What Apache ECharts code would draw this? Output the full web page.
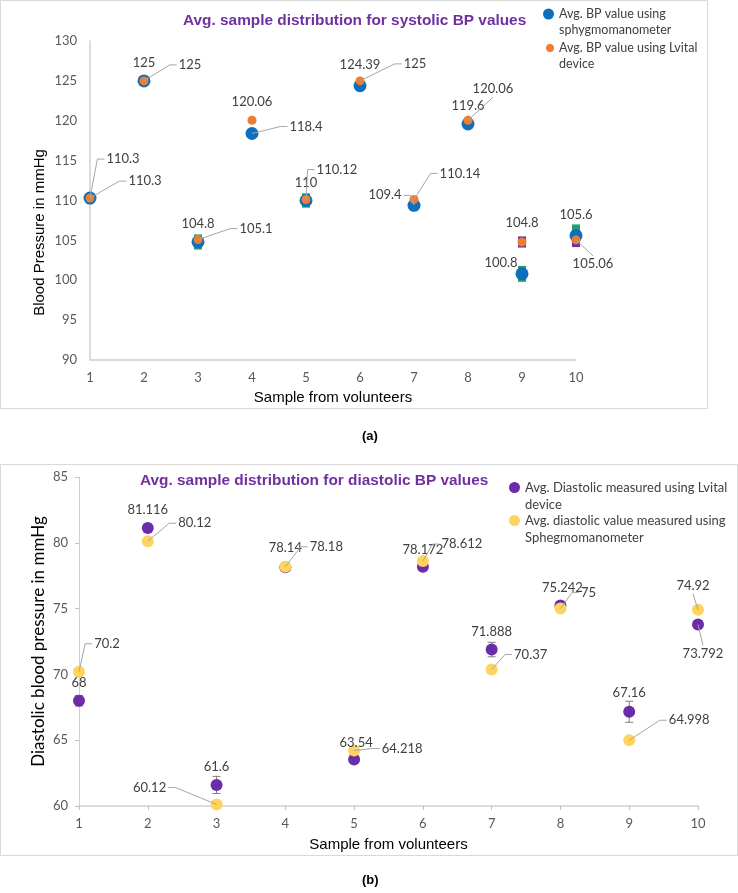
<!DOCTYPE html>
<html><head><meta charset="utf-8">
<script src="https://cdn.jsdelivr.net/npm/echarts@6/dist/echarts.min.js"></script>
<style>html,body{margin:0;padding:0;background:#fff;}#c{width:738px;height:893px;}</style>
</head><body><div id="c"></div>
<script>
// ---------- data ----------
const samples = [1, 2, 3, 4, 5, 6, 7, 8, 9, 10];
const sysSphyg = [110.3, 125, 104.8, 118.4, 110, 124.39, 109.4, 119.6, 100.8, 105.6];
const sysLvital = [110.3, 125, 105.1, 120.06, 110.12, 125, 110.14, 120.06, 104.8, 105.06];
const sysSphygErr = [0.5, 0.5, 0.95, 0.4, 0.9, 0.4, 0.5, 0.3, 1.0, 1.4];
const sysLvitalErr = [0.3, 0.3, 0.3, 0.3, 0.3, 0.3, 0.3, 0.3, 0.7, 0.9];
const diaLvital = [68, 81.116, 61.6, 78.14, 63.54, 78.172, 71.888, 75.242, 67.16, 73.792];
const diaSphyg = [70.2, 80.12, 60.12, 78.18, 64.218, 78.612, 70.37, 75, 64.998, 74.92];
const diaLvitalErr = [0.4, 0.3, 0.65, 0.3, 0.3, 0.3, 0.55, 0.3, 0.8, 0.3];
const diaSphygErr = [0.2, 0.2, 0.2, 0.2, 0.2, 0.2, 0.3, 0.2, 0.2, 0.2];
const sysTicks = [90, 95, 100, 105, 110, 115, 120, 125, 130];
const diaTicks = [60, 65, 70, 75, 80, 85];
const sysSphygName = 'Avg. BP value using\nsphygmomanometer';
const sysLvitalName = 'Avg. BP value using Lvital\ndevice';
const diaLvitalName = 'Avg. Diastolic measured using Lvital\ndevice';
const diaSphygName = 'Avg. diastolic value measured using\nSphegmomanometer';

// ---------- label placement (layout, not data): [dx, dy, leader] ----------
const sysSphygLab = [[55,-17,1],[0,-18,0],[0,-18,0],[54,-7,1],[0,-18,0],[0,-21,0],[-29,-10,1],[0,-18,0],[-21,-11,0],[0,-21,0]];
const sysLvitalLab = [[33,-39,1],[46,-16,1],[58,-11,1],[0,-18,0],[31,-30,1],[55,-17,1],[46,-26,1],[25,-31,1],[0,-19,0],[17,24,1]];
const diaLvitalLab = [[0,-18,0],[0,-18,0],[0,-18,0],[0,-19,0],[2,-17,0],[0,-17,0],[0,-18,0],[2,-18,0],[0,-19,0],[5,29,1]];
const diaSphygLab = [[28,-28,1],[47,-18,1],[-67,-17,1],[41,-20,1],[48,-2,1],[39,-17,1],[39,-15,1],[28,-16,1],[60,-20,1],[-5,-24,1]];

const LABEL_FONT = 'Lato';
const ARIAL = 'Liberation Sans';
const LAB_FONT_CSS = '13px Lato';
const mctx = document.createElement('canvas').getContext('2d');
function textW(t) { mctx.font = LAB_FONT_CSS; return mctx.measureText(t).width; }

function scatter(name, vals, idx, color, size) {
  return {
    type: 'scatter', name, xAxisIndex: idx, yAxisIndex: idx,
    data: samples.map((s, i) => [s, vals[i]]), symbol: 'circle', symbolSize: size,
    itemStyle: { color, opacity: 1 }, emphasis: { disabled: true }, z: 3
  };
}
function labels(vals, lab, idx) {
  return {
    type: 'custom', xAxisIndex: idx, yAxisIndex: idx, z: 5, silent: true,
    data: samples.map((s, i) => [s, vals[i]]),
    renderItem: (params, api) => {
      const i = params.dataIndex;
      const v = api.value(1);
      const p = api.coord([api.value(0), v]);
      const o = lab[i];
      const cx = p[0] + o[0], cy = p[1] + o[1];
      const text = String(v);
      const w = textW(text), h = 14;
      const children = [];
      if (o[2]) {
        let pts;
        if (Math.abs(o[0]) < w / 2 + 10) {
          const ey = cy - Math.sign(o[1]) * (h / 2 + 1);
          pts = [p, [cx, ey]];
        } else {
          const side = Math.sign(o[0]);
          const ex = cx - side * (w / 2 + 2);
          pts = [p, [ex - side * 7, cy], [ex, cy]];
        }
        children.push({ type: 'polyline', shape: { points: pts }, style: { stroke: '#A6A6A6', lineWidth: 1, fill: null } });
      }
      children.push({ type: 'text', x: cx, y: cy, style: { text, align: 'center', verticalAlign: 'middle', font: LAB_FONT_CSS, fill: '#404040' } });
      return { type: 'group', children };
    }
  };
}
function errBlock(vals, errs, idx, color) {
  return {
    type: 'custom', xAxisIndex: idx, yAxisIndex: idx, z: 2, silent: true,
    data: samples.map((s, i) => [s, vals[i], errs[i]]),
    renderItem: (params, api) => {
      const x = api.value(0), y = api.value(1), e = api.value(2);
      const t = api.coord([x, y + e]), b = api.coord([x, y - e]);
      return { type: 'rect', shape: { x: t[0] - 4, y: t[1], width: 8, height: b[1] - t[1] }, style: { fill: color } };
    }
  };
}
function errBar(vals, errs, idx) {
  return {
    type: 'custom', xAxisIndex: idx, yAxisIndex: idx, z: 2, silent: true,
    data: samples.map((s, i) => [s, vals[i], errs[i]]),
    renderItem: (params, api) => {
      const x = api.value(0), y = api.value(1), e = api.value(2);
      const t = api.coord([x, y + e]), b = api.coord([x, y - e]);
      const st = { stroke: '#7F7F7F', lineWidth: 1 };
      return { type: 'group', children: [
        { type: 'line', shape: { x1: t[0], y1: t[1], x2: b[0], y2: b[1] }, style: st },
        { type: 'line', shape: { x1: t[0] - 4, y1: t[1], x2: t[0] + 4, y2: t[1] }, style: st },
        { type: 'line', shape: { x1: b[0] - 4, y1: b[1], x2: b[0] + 4, y2: b[1] }, style: st }
      ] };
    }
  };
}
function legend(name, left, top, size, fontSize, lh) {
  return {
    data: [name], left, top, orient: 'vertical', padding: 0, itemGap: 0,
    icon: 'circle', itemWidth: size, itemHeight: size, selectedMode: false,
    formatter: n => '\n' + n,
    textStyle: { fontFamily: LABEL_FONT, fontSize, color: '#404040', lineHeight: lh }
  };
}
const axisLabelStyle = { color: '#595959', fontFamily: LABEL_FONT, fontSize: 13 };

const option = {
  animation: false,
  backgroundColor: '#fff',
  title: [
    { text: 'Avg. sample distribution for systolic BP values', left: 183, top: 13, padding: 0,
      textStyle: { color: '#7030A0', fontFamily: ARIAL, fontWeight: 'bold', fontSize: 15.4 } },
    { text: 'Avg. sample distribution for diastolic BP values', left: 140, top: 473, padding: 0,
      textStyle: { color: '#7030A0', fontFamily: ARIAL, fontWeight: 'bold', fontSize: 15.4 } }
  ],
  legend: [
    legend(sysSphygName, 543, -10, 11, 12.5, 16),
    legend(sysLvitalName, 546, 24, 8, 12.5, 16),
    legend(diaLvitalName, 509, 462, 11, 13, 17),
    legend(diaSphygName, 509, 495, 11, 13, 17)
  ],
  grid: [
    { left: 90, right: 162, top: 41, bottom: 533 },
    { left: 79, right: 40, top: 477, bottom: 87 }
  ],
  xAxis: [0, 1].map(i => ({
    type: 'value', gridIndex: i, min: 1, max: 10, interval: 1,
    name: 'Sample from volunteers', nameLocation: 'middle', nameGap: i === 0 ? 30 : 31,
    nameMoveOverlap: false,
    nameTextStyle: { fontFamily: ARIAL, fontSize: 15, color: '#000' },
    axisLine: { lineStyle: { color: '#D0D0D0', width: 1.5 } },
    axisTick: { show: i === 1, length: 4, lineStyle: { color: '#C0C0C0' } },
    axisLabel: Object.assign({ margin: 11 }, axisLabelStyle),
    splitLine: { show: false }
  })),
  yAxis: [
    { type: 'value', gridIndex: 0, min: sysTicks[0], max: sysTicks[sysTicks.length - 1], interval: 5,
      name: 'Blood Pressure in mmHg', nameLocation: 'middle', nameGap: 43, nameMoveOverlap: false,
      nameTextStyle: { fontFamily: ARIAL, fontSize: 15, color: '#000', padding: [0, 64, 0, 0] },
      axisLine: { show: true, lineStyle: { color: '#D0D0D0', width: 1.5 } },
      axisTick: { show: false },
      axisLabel: Object.assign({ margin: 13 }, axisLabelStyle),
      splitLine: { show: false } },
    { type: 'value', gridIndex: 1, min: diaTicks[0], max: diaTicks[diaTicks.length - 1], interval: 5,
      name: 'Diastolic blood pressure in mmHg', nameLocation: 'middle', nameGap: 32, nameMoveOverlap: false,
      nameTextStyle: { fontFamily: LABEL_FONT, fontSize: 17, color: '#000' },
      axisLine: { show: true, lineStyle: { color: '#D0D0D0', width: 1 } },
      axisTick: { show: true, length: 4, lineStyle: { color: '#C0C0C0' } },
      axisLabel: Object.assign({ margin: 11 }, axisLabelStyle),
      splitLine: { show: false } }
  ],
  graphic: [
    { type: 'rect', shape: { x: 0.5, y: 0.5, width: 707, height: 408 }, style: { fill: 'none', stroke: '#D9D9D9', lineWidth: 1 }, z: -1 },
    { type: 'rect', shape: { x: 0.5, y: 464.5, width: 737, height: 391 }, style: { fill: 'none', stroke: '#D9D9D9', lineWidth: 1 }, z: -1 },
    { type: 'text', left: 362, top: 430, style: { text: '(a)', font: 'bold 13px "Liberation Sans"', fill: '#000' } },
    { type: 'text', left: 362, top: 874, style: { text: '(b)', font: 'bold 13px "Liberation Sans"', fill: '#000' } }
  ],
  series: [
    errBlock(sysSphyg, sysSphygErr, 0, '#21A06E'),
    errBlock(sysLvital, sysLvitalErr, 0, '#7030A0'),
    scatter(sysSphygName, sysSphyg, 0, '#0F6FBF', 13),
    scatter(sysLvitalName, sysLvital, 0, '#ED7D31', 9),
    labels(sysSphyg, sysSphygLab, 0),
    labels(sysLvital, sysLvitalLab, 0),
    errBar(diaLvital, diaLvitalErr, 1),
    errBar(diaSphyg, diaSphygErr, 1),
    scatter(diaLvitalName, diaLvital, 1, '#6A2CA8', 12),
    scatter(diaSphygName, diaSphyg, 1, '#FFD35C', 12),
    labels(diaLvital, diaLvitalLab, 1),
    labels(diaSphyg, diaSphygLab, 1)
  ]
};
const chart = echarts.init(document.getElementById('c'), null, { renderer: 'canvas' });
chart.setOption(option);
</script></body></html>
